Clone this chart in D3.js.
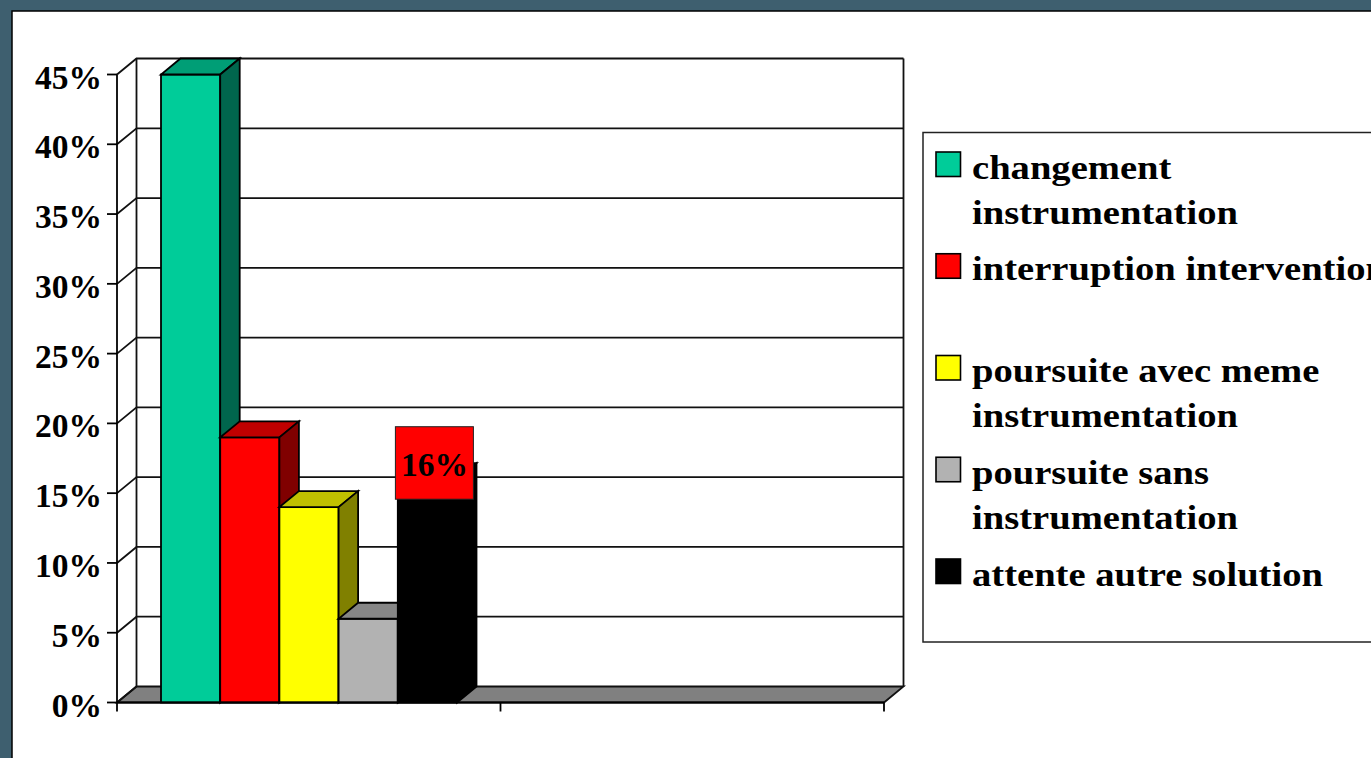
<!DOCTYPE html>
<html>
<head>
<meta charset="utf-8">
<script src="https://cdn.jsdelivr.net/npm/d3@7"></script>
<style>
html,body{margin:0;padding:0;background:#3e5f6f;overflow:hidden}
svg{display:block}
text{font-family:"Liberation Serif",serif;font-weight:700;fill:#000}
</style>
</head>
<body>
<svg id="c" width="1371" height="758"></svg>
<script>
const series = ["changement instrumentation","interruption intervention","poursuite avec meme instrumentation","poursuite sans instrumentation","attente autre solution"];
const values = [45,19,14,6,16];
const yTicks = [0,5,10,15,20,25,30,35,40,45];
const legendLines = [["changement","instrumentation"],["interruption intervention"],["poursuite avec meme","instrumentation"],["poursuite sans","instrumentation"],["attente autre solution"]];
const faceColors = ["#00CC99","#FF0000","#FFFF00","#B2B2B2","#000000"];
const topColors = ["#009E76","#C00000","#C0C000","#868686","#000000"];
const sideColors = ["#00664D","#800000","#808000","#5A5A5A","#000000"];
const labelledSeries = [4];

const svg = d3.select("#c");
const dx = 19.5, dy = 16;
const sw = 1.8;
const y = d3.scaleLinear().domain([0,45]).range([702.5,74.5]);
const xCat = d3.scaleLinear().domain([0,2]).range([117,884]);
const xBar = d3.scaleBand().domain(d3.range(values.length)).range([161,457]);
const line = "#111";

svg.append("rect").attr("x",12).attr("y",11).attr("width",1365).attr("height",760)
  .attr("fill","#fff").attr("stroke","#000").attr("stroke-width",1.5);

// walls
const x0 = xCat(0), x1 = xCat(2);
svg.append("path").attr("fill","#808080").attr("stroke",line).attr("stroke-width",sw)
  .attr("d",`M${x0},${y(0)}L${x1},${y(0)}L${x1+dx},${y(0)-dy}L${x0+dx},${y(0)-dy}Z`);
svg.append("g").selectAll("path").data(yTicks.filter(d=>d>0)).join("path")
  .attr("fill","none").attr("stroke",line).attr("stroke-width",sw)
  .attr("d",d=>`M${x0},${y(d)}L${x0+dx},${y(d)-dy}L${x1+dx},${y(d)-dy}`);
svg.append("path").attr("fill","none").attr("stroke",line).attr("stroke-width",sw)
  .attr("d",`M${x0+dx},${y(0)-dy}V${y(45)-dy}M${x1+dx},${y(45)-dy}V${y(0)-dy}`);
svg.append("path").attr("fill","none").attr("stroke",line).attr("stroke-width",sw)
  .attr("d",`M${x0},${y(0)}L${x0+dx},${y(0)-dy}`);

// bars
const bw = xBar.bandwidth();
const bars = svg.append("g").selectAll("g").data(values).join("g");
bars.append("rect").attr("x",(d,i)=>xBar(i)).attr("y",d=>y(d)).attr("width",bw).attr("height",d=>y(0)-y(d))
  .attr("fill",(d,i)=>faceColors[i]).attr("stroke","#000").attr("stroke-width",sw);
bars.append("path").attr("fill",(d,i)=>topColors[i]).attr("stroke","#000").attr("stroke-width",sw)
  .attr("d",(d,i)=>`M${xBar(i)},${y(d)}h${bw}l${dx},${-dy}h${-bw}Z`);
bars.append("path").attr("fill",(d,i)=>sideColors[i]).attr("stroke","#000").attr("stroke-width",sw)
  .attr("d",(d,i)=>`M${xBar(i)+bw},${y(d)}V${y(0)}l${dx},${-dy}V${y(d)-dy}Z`);

// front baseline and axes
const yAxis = d3.axisLeft(y).offset(0).tickValues(yTicks).tickSize(10).tickSizeOuter(0).tickPadding(5).tickFormat(d=>d+"%");
const gy = svg.append("g").attr("transform",`translate(${x0},0)`).call(yAxis);
gy.selectAll("path,line").attr("stroke","#000").attr("stroke-width",sw);
gy.selectAll("text").attr("font-size",33.5).attr("dy","0.42em");
gy.attr("font-family",null).attr("font-size",null);
const xAxis = d3.axisBottom(xCat).offset(0).tickValues([0,1,2]).tickSize(9).tickSizeOuter(0).tickFormat("");
const gx = svg.append("g").attr("transform",`translate(0,${y(0)})`).call(xAxis);
gx.selectAll("path,line").attr("stroke","#000").attr("stroke-width",sw);

// data label
labelledSeries.forEach(i=>{
  const cx = xBar(i)+bw/2+7;
  svg.append("rect").attr("x",cx-39).attr("y",y(values[i])-52.5).attr("width",78).attr("height",72.5)
    .attr("fill","#FF0000").attr("stroke","#222").attr("stroke-width",1);
  svg.append("text").attr("x",cx).attr("y",y(values[i])-3.5).attr("text-anchor","middle").attr("font-size",33.5).text(values[i]+"%");
});

// legend
svg.append("rect").attr("x",923).attr("y",132.5).attr("width",470).attr("height",509.5)
  .attr("fill","#fff").attr("stroke","#222").attr("stroke-width",1.5);
const lg = d3.scalePoint().domain(d3.range(series.length)).range([152,559]);
const leg = svg.append("g").selectAll("g").data(series).join("g").attr("transform",(d,i)=>`translate(936,${lg(i)})`);
leg.append("rect").attr("x",0).attr("y",0).attr("width",24.5).attr("height",24.5)
  .attr("fill",(d,i)=>faceColors[i]).attr("stroke","#000").attr("stroke-width",1.6);
leg.each(function(d,i){
  d3.select(this).selectAll("text").data(legendLines[i]).join("text")
    .attr("transform",(t,k)=>`translate(36,${26.5+k*45.3}) scale(1.17,1)`)
    .attr("font-size",33).text(t=>t);
});
</script>
</body>
</html>
